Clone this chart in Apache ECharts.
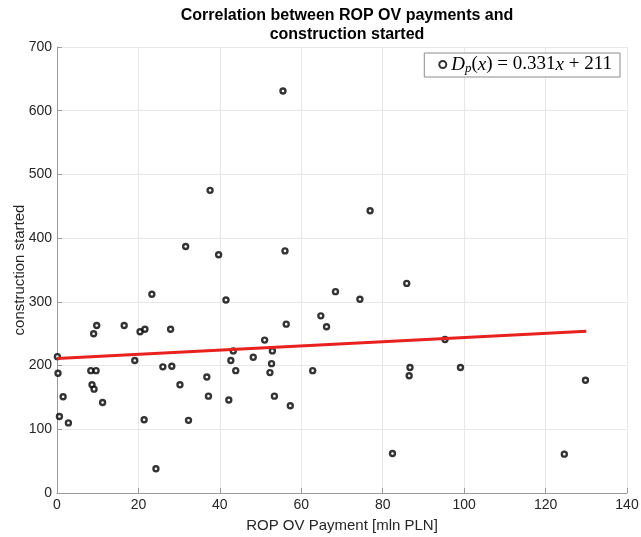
<!DOCTYPE html>
<html><head><meta charset="utf-8">
<script src="https://cdn.jsdelivr.net/npm/echarts@6/dist/echarts.min.js"></script>
<style>html,body{margin:0;padding:0;background:#fff}#c{width:641px;height:537px}</style>
</head><body><div id="c"></div>
<script>
const paymentX = [0.1,0.25,1.5,0.6,2.8,8.3,9.6,8.6,9.1,9.0,9.75,11.2,16.5,19.1,20.4,21.6,21.4,23.3,24.3,26.0,27.9,28.2,30.2,31.6,32.3,36.8,37.2,37.6,39.7,41.5,42.2,42.7,43.3,43.9,48.2,51.0,52.3,52.7,52.9,53.4,55.5,56.0,56.3,57.3,62.8,64.8,66.2,68.4,74.4,76.9,82.4,85.9,86.5,86.7,95.3,99.1,124.6,129.8];
const constructionY = [214,188,151,120,110,192,192,170,163,250,263,142,263,208,253,257,115,312,38,198,257,199,170,387,114,182,152,475,374,303,146,208,223,192,213,240,189,203,223,152,631,380,265,137,192,278,261,316,304,443,62,329,184,197,241,197,61,177];
const fitX = [0, 130];
const fitY = [211, 254];
const xTicks = [0,20,40,60,80,100,120,140];
const yTicks = [0,100,200,300,400,500,600,700];

const chart = echarts.init(document.getElementById('c'), null, {renderer:'canvas'});
const font = 'Liberation Sans, Arial, Helvetica, sans-serif';
chart.setOption({
  animation:false,
  backgroundColor:'#fff',
  title:{
    text:'Correlation between ROP OV payments and\nconstruction started',
    left:342, top:1, textAlign:'center',
    textStyle:{fontFamily:font,fontSize:16,fontWeight:'bold',color:'#000',lineHeight:19}
  },
  grid:{left:57,right:14,top:47,bottom:44,containLabel:false,outerBoundsMode:'none'},
  legend:{
    right:21, top:53,
    data:['fit'],
    selectedMode:false,
    backgroundColor:'#fff', borderColor:'#8a8a8a', borderWidth:1,
    padding:[2,8,2,14],
    itemWidth:7,itemHeight:7,itemGap:6,
    formatter:()=> '{i|D}{s|p}{n|(}{i|x}{n|) = 0.331}{i|x}{n| + 211}',
    textStyle:{
      fontFamily:'Liberation Serif, DejaVu Serif, serif',fontSize:19,color:'#000',
      rich:{
        i:{fontFamily:'Liberation Serif, serif',fontStyle:'italic',fontSize:19,color:'#000'},
        n:{fontFamily:'Liberation Serif, serif',fontSize:19,color:'#000'},
        s:{fontFamily:'Liberation Serif, serif',fontStyle:'italic',fontSize:13,color:'#000',padding:[8,0,0,0]}
      }
    }
  },
  xAxis:{
    type:'value',min:0,max:140,interval:20,
    name:'ROP OV Payment [mln PLN]',nameLocation:'middle',nameGap:25,nameMoveOverlap:false,
    nameTextStyle:{fontFamily:font,fontSize:15,color:'#262626'},
    axisLine:{show:true,lineStyle:{color:'#9a9a9a',width:1}},
    axisTick:{show:true,inside:true,length:5,lineStyle:{color:'#9a9a9a'}},
    axisLabel:{fontFamily:font,fontSize:14,color:'#262626',margin:5,
      formatter:v=> xTicks.includes(v)? String(v):''},
    splitLine:{show:true,lineStyle:{color:'#e8e8e8',width:1}}
  },
  yAxis:{
    type:'value',min:0,max:700,interval:100,
    name:'construction started',nameLocation:'middle',nameGap:30,nameRotate:90,nameMoveOverlap:false,
    nameTextStyle:{fontFamily:font,fontSize:15,color:'#262626'},
    axisLine:{show:true,lineStyle:{color:'#9a9a9a',width:1}},
    axisTick:{show:true,inside:true,length:5,lineStyle:{color:'#9a9a9a'}},
    axisLabel:{fontFamily:font,fontSize:14,color:'#262626',margin:5,
      formatter:v=> yTicks.includes(v)? String(v):''},
    splitLine:{show:true,lineStyle:{color:'#e8e8e8',width:1}}
  },
  series:[
    {
      name:'fit',type:'scatter',
      data:paymentX.map((x,i)=>[x,constructionY[i]]),
      symbol:'circle',symbolSize:5,
      itemStyle:{color:'#fff',borderColor:'#000',borderWidth:2.4},
      z:3
    },
    {
      name:'line',type:'line',
      data:fitX.map((x,i)=>[x,fitY[i]]),
      symbol:'none',
      lineStyle:{color:'#e8211f',width:3},
      z:4
    }
  ]
});
</script></body></html>
